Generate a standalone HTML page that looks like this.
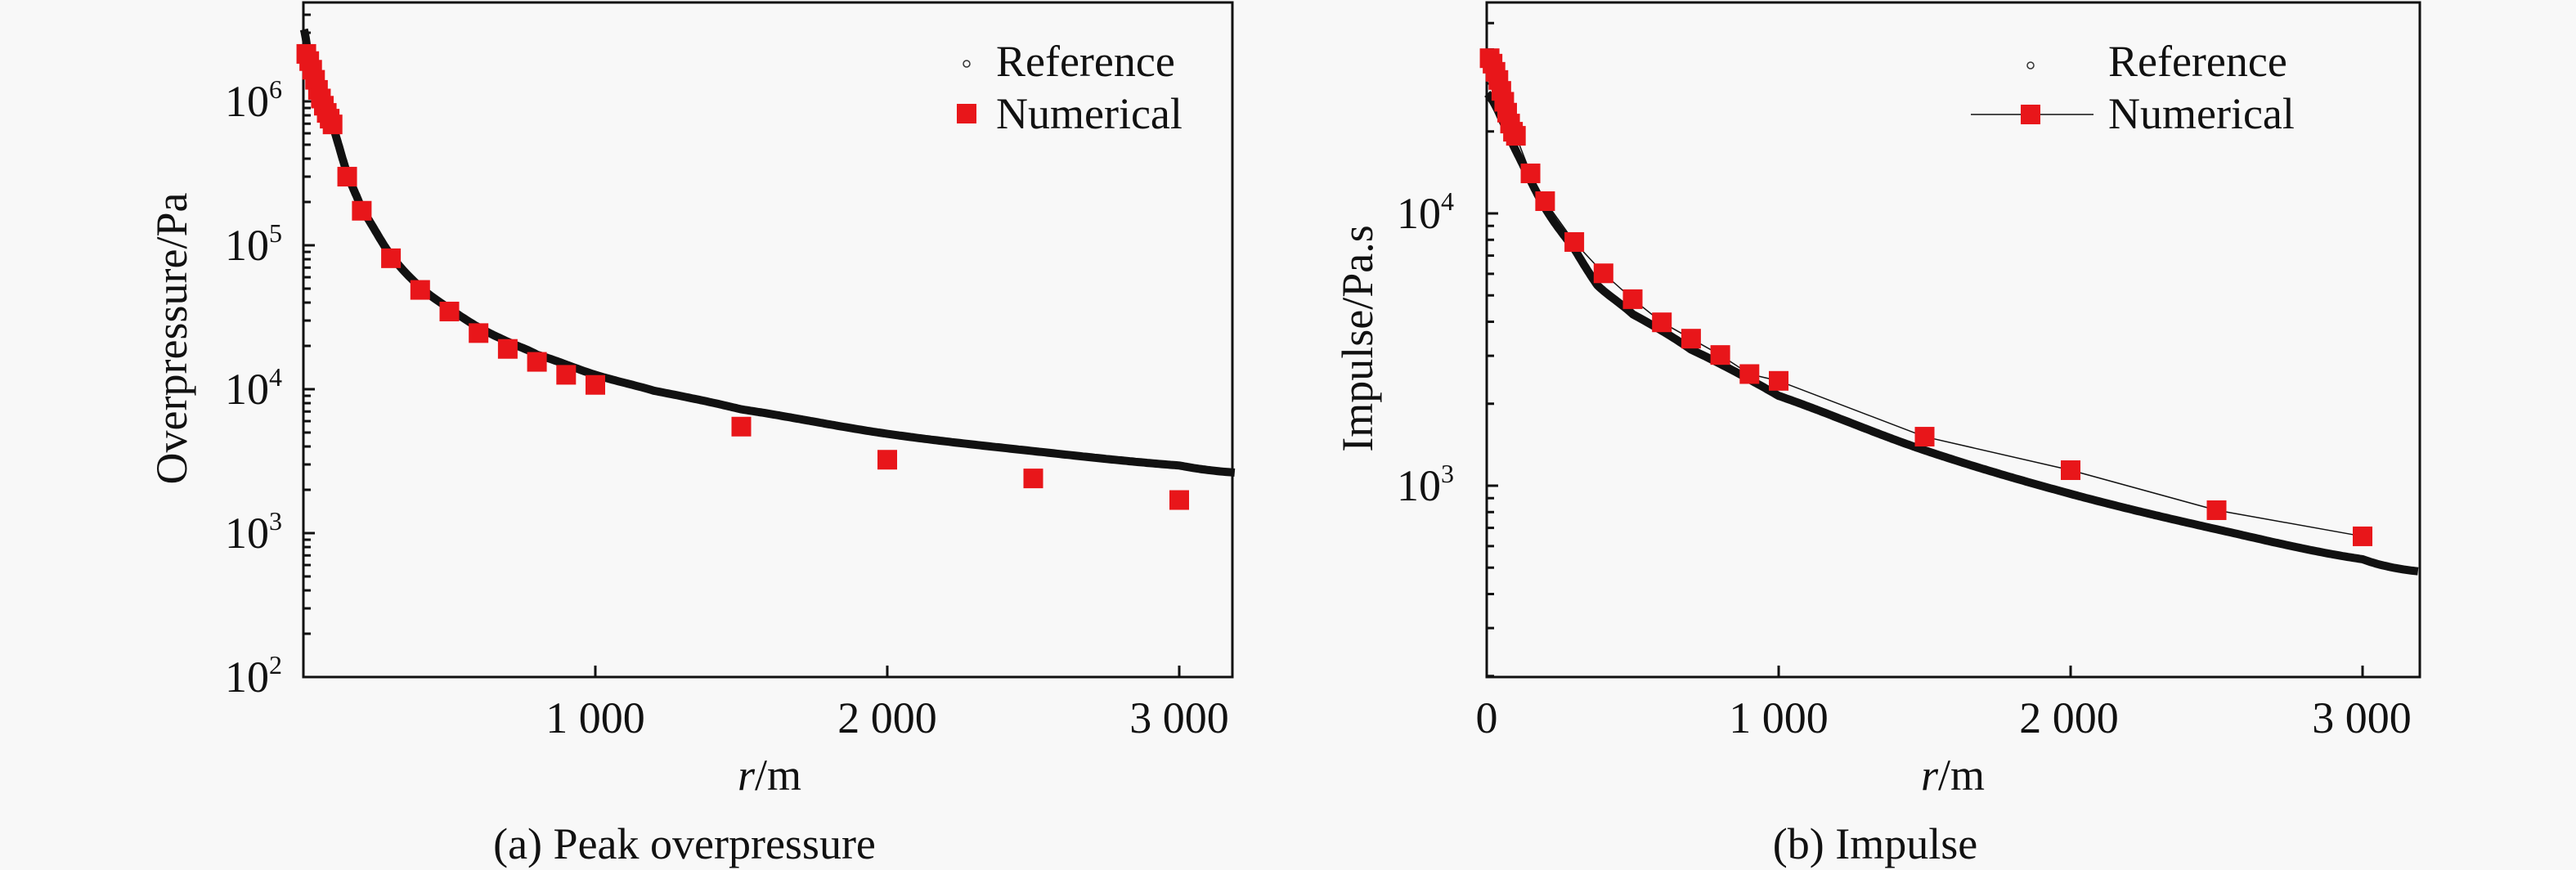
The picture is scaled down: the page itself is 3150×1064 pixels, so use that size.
<!DOCTYPE html>
<html><head><meta charset="utf-8"><style>
html,body{margin:0;padding:0;background:#f8f8f8;}
svg{display:block;}
text{font-family:"Liberation Serif",serif;fill:#111;}
</style></head><body>
<svg id="s" width="3150" height="1064" viewBox="0 0 3150 1064" xmlns="http://www.w3.org/2000/svg">
<rect width="3150" height="1064" fill="#f8f8f8"/>
<!-- Left panel frame -->
<rect x="371" y="3" width="1136" height="825" fill="none" stroke="#111" stroke-width="3"/>
<rect x="1818" y="3" width="1141" height="825" fill="none" stroke="#111" stroke-width="3"/>
<g id="g"></g>
<!-- Left labels -->
<g font-size="54">
<text x="345" y="142" text-anchor="end">10<tspan font-size="32" dy="-22">6</tspan></text>
<text x="345" y="318" text-anchor="end">10<tspan font-size="32" dy="-22">5</tspan></text>
<text x="345" y="494" text-anchor="end">10<tspan font-size="32" dy="-22">4</tspan></text>
<text x="345" y="670" text-anchor="end">10<tspan font-size="32" dy="-22">3</tspan></text>
<text x="345" y="846" text-anchor="end">10<tspan font-size="32" dy="-22">2</tspan></text>
<text x="728" y="896" text-anchor="middle">1 000</text>
<text x="1085" y="896" text-anchor="middle">2 000</text>
<text x="1442" y="896" text-anchor="middle">3 000</text>
<text x="941" y="966" text-anchor="middle"><tspan font-style="italic">r</tspan>/m</text>
<text x="837" y="1050" text-anchor="middle">(a) Peak overpressure</text>
<text transform="translate(228,414) rotate(-90)" text-anchor="middle">Overpressure/Pa</text>
<text x="1218" y="93">Reference</text>
<text x="1218" y="157">Numerical</text>
<!-- right -->
<text x="1778" y="279" text-anchor="end">10<tspan font-size="32" dy="-22">4</tspan></text>
<text x="1778" y="612" text-anchor="end">10<tspan font-size="32" dy="-22">3</tspan></text>
<text x="1818" y="896" text-anchor="middle">0</text>
<text x="2175" y="896" text-anchor="middle">1 000</text>
<text x="2530" y="896" text-anchor="middle">2 000</text>
<text x="2888" y="896" text-anchor="middle">3 000</text>
<text x="2388" y="966" text-anchor="middle"><tspan font-style="italic">r</tspan>/m</text>
<text x="2293" y="1050" text-anchor="middle">(b) Impulse</text>
<text transform="translate(1678,414) rotate(-90)" text-anchor="middle">Impulse/Pa.s</text>
<text x="2578" y="93">Reference</text>
<text x="2578" y="157">Numerical</text>
</g>
<circle cx="1182" cy="78" r="4" fill="none" stroke="#333" stroke-width="1.5"/>
<rect x="1170" y="127" width="24" height="24" fill="#e8161a"/>
<circle cx="2483" cy="80" r="4" fill="none" stroke="#333" stroke-width="1.5"/>
<line x1="2410" y1="140" x2="2560" y2="140" stroke="#111" stroke-width="1.5"/>
<rect x="2471" y="128" width="24" height="24" fill="#e8161a"/>
</svg>
<script>
var g=document.getElementById('g');var h='';
function L(x0,r){return x0+r*0.357;}
function YA(l){return 124-(l-6)*176;}
function YB(l){return 261-(l-4)*333;}
function interp(pts,r){for(var i=0;i<pts.length-1;i++){if(r<=pts[i+1][0]){var t=(r-pts[i][0])/(pts[i+1][0]-pts[i][0]);
var p0=pts[Math.max(i-1,0)][1],p1=pts[i][1],p2=pts[i+1][1],p3=pts[Math.min(i+2,pts.length-1)][1];
return 0.5*((2*p1)+(-p0+p2)*t+(2*p0-5*p1+4*p2-p3)*t*t+(-p0+3*p1-3*p2+p3)*t*t*t);}}return pts[pts.length-1][1];}
// ticks left
for(var d=2;d<6.7;d++){for(var k=1;k<10;k++){var l=d+Math.log10(k);if(l>6.69)break;var y=YA(l);h+='<line x1="371" x2="'+(k==1?385:380)+'" y1="'+y+'" y2="'+y+'" stroke="#111" stroke-width="3"/>';}}
for(var d=2;d<4.8;d++){for(var k=1;k<10;k++){var l=d+Math.log10(k);if(l<2.3||l>4.77)continue;var y=YB(l);h+='<line x1="1818" x2="'+(k==1?1832:1827)+'" y1="'+y+'" y2="'+y+'" stroke="#111" stroke-width="3"/>';}}
[1000,2000,3000].forEach(function(r){var x=L(371,r);h+='<line x1="'+x+'" x2="'+x+'" y1="828" y2="814" stroke="#111" stroke-width="3"/>';x=L(1818,r);h+='<line x1="'+x+'" x2="'+x+'" y1="828" y2="814" stroke="#111" stroke-width="3"/>';});
// curve A
var ca=[[2,6.5],[20,6.27],[50,6.07],[100,5.83],[150,5.5],[200,5.25],[300,4.93],[400,4.71],[500,4.56],[600,4.43],[700,4.33],[800,4.24],[1000,4.10],[1200,3.99],[1500,3.86],[2000,3.69],[2500,3.57],[3000,3.47],[3195,3.42]];
var p='';for(var r=2;r<=3195;r+=(r<300?2:10)){p+=(p?'L':'M')+L(371,r).toFixed(1)+','+YA(interp(ca,r)).toFixed(1);}
h+='<path d="'+p+'" fill="none" stroke="#111" stroke-width="10" stroke-linejoin="round"/>';
var cb=[[2,4.44],[100,4.23],[200,4.02],[300,3.87],[380,3.735],[500,3.63],[700,3.50],[1000,3.33],[1500,3.13],[2000,2.97],[2500,2.84],[3000,2.73],[3195,2.685]];
p='';for(var r=2;r<=3195;r+=(r<400?2:10)){p+=(p?'L':'M')+L(1818,r).toFixed(1)+','+YB(interp(cb,r)).toFixed(1);}
h+='<path d="'+p+'" fill="none" stroke="#111" stroke-width="10" stroke-linejoin="round"/>';
// numerical A
var na=[[10,6.33],[20,6.28],[30,6.22],[40,6.15],[50,6.08],[60,6.02],[70,5.97],[80,5.92],[90,5.88],[100,5.84],[150,5.477],[200,5.24],[300,4.91],[400,4.69],[500,4.54],[600,4.39],[700,4.28],[800,4.19],[900,4.10],[1000,4.03],[1500,3.74],[2000,3.51],[2500,3.38],[3000,3.23]];
na.forEach(function(q){h+='<rect x="'+(L(371,q[0])-12)+'" y="'+(YA(q[1])-12)+'" width="24" height="24" fill="#e8161a"/>';});
var nb=[[10,4.57],[20,4.55],[30,4.52],[40,4.49],[50,4.45],[60,4.41],[70,4.37],[80,4.33],[90,4.30],[100,4.285],[150,4.147],[200,4.045],[300,3.895],[400,3.78],[500,3.685],[600,3.60],[700,3.54],[800,3.48],[900,3.41],[1000,3.385],[1500,3.18],[2000,3.057],[2500,2.91],[3000,2.814]];
p='';nb.forEach(function(q){p+=(p?'L':'M')+L(1818,q[0])+','+YB(q[1]);});
h+='<path d="'+p+'" fill="none" stroke="#111" stroke-width="1.5"/>';
nb.forEach(function(q){h+='<rect x="'+(L(1818,q[0])-12)+'" y="'+(YB(q[1])-12)+'" width="24" height="24" fill="#e8161a"/>';});
g.innerHTML=h;
</script>
</body></html>
